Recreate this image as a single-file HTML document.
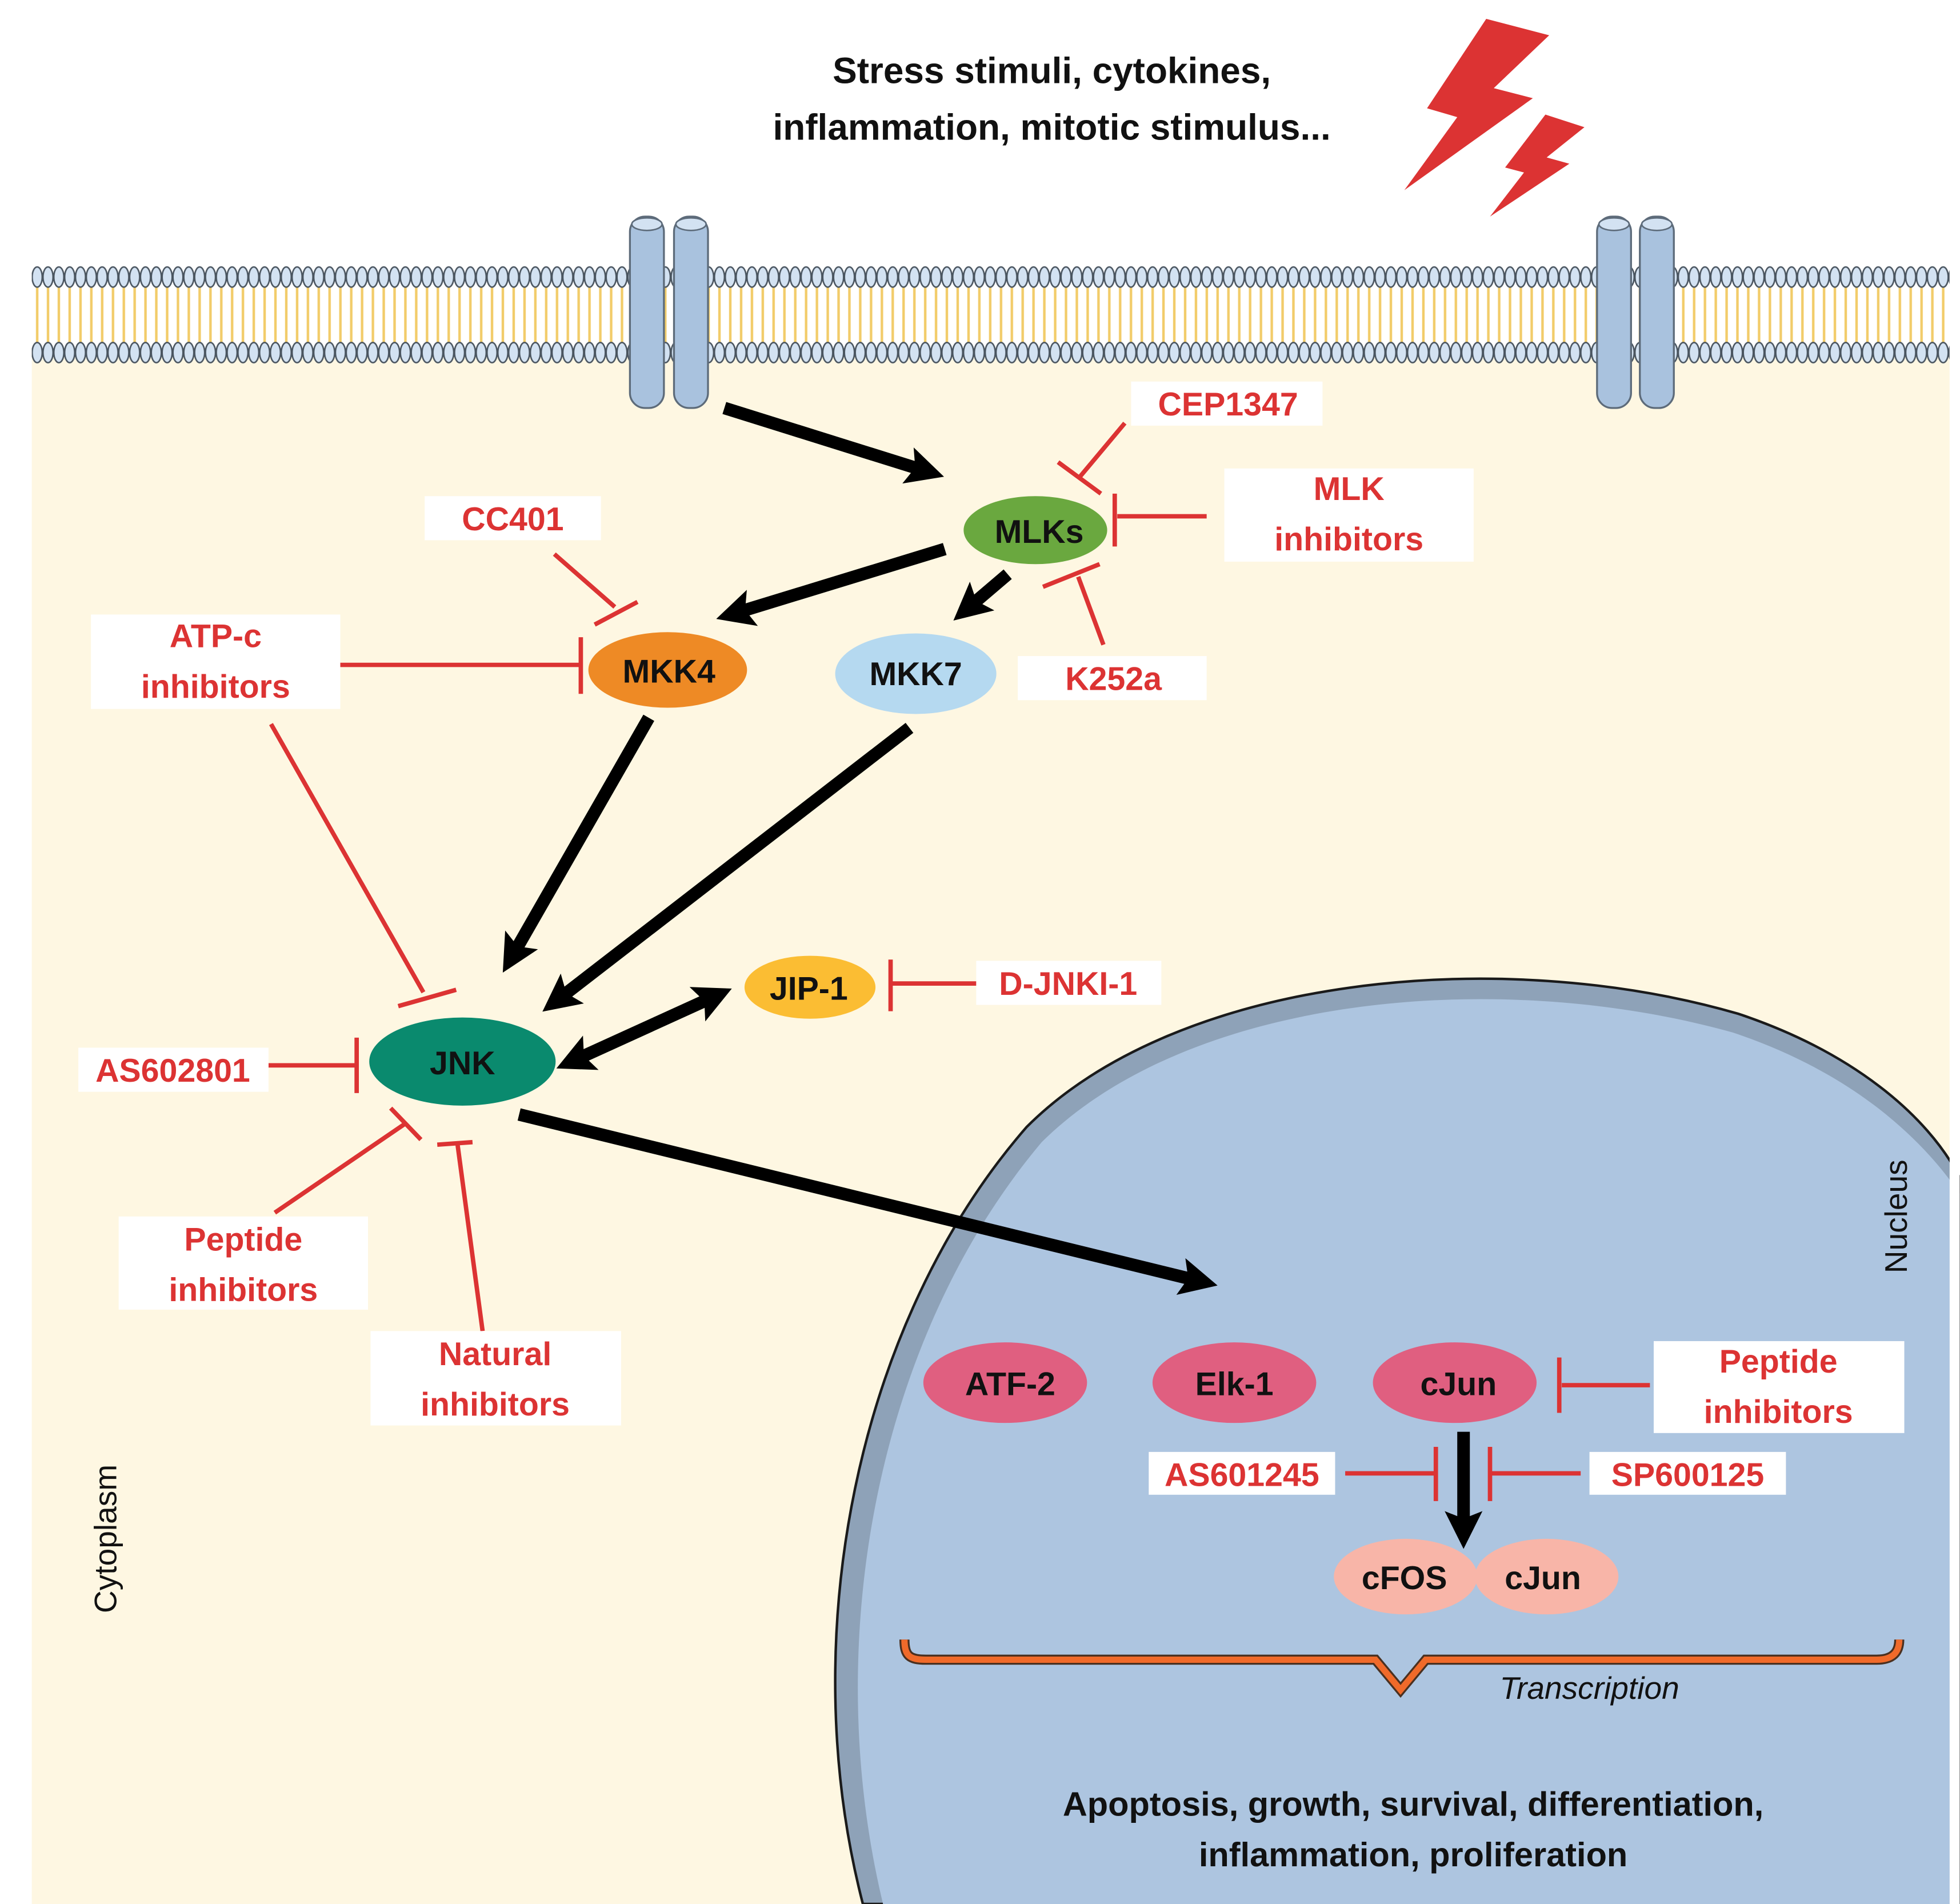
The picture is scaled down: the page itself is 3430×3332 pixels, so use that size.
<!DOCTYPE html>
<html><head><meta charset="utf-8"><style>
html,body{margin:0;padding:0;background:#fff;}
svg{display:block;}
text{font-family:"Liberation Sans",Arial,sans-serif;font-weight:bold;}
</style></head><body>
<svg width="3430" height="3332" viewBox="0 0 1556 1512" xmlns="http://www.w3.org/2000/svg">
<defs>
<pattern id="headsT" x="25" y="210" width="8.6" height="20" patternUnits="userSpaceOnUse">
<ellipse cx="4.3" cy="10" rx="4" ry="8" fill="#d3e2f2" stroke="#4a5560" stroke-width="1.2"/>
</pattern>
<pattern id="headsB" x="25" y="270" width="8.6" height="20" patternUnits="userSpaceOnUse">
<ellipse cx="4.3" cy="10" rx="4" ry="8" fill="#d3e2f2" stroke="#4a5560" stroke-width="1.2"/>
</pattern>
<pattern id="tails" x="25" y="228" width="8.6" height="46" patternUnits="userSpaceOnUse">
<line x1="4.3" y1="0" x2="4.3" y2="46" stroke="#f2cc6a" stroke-width="2"/>
</pattern>
<marker id="ah" viewBox="0 0 10 10" refX="6" refY="5" markerWidth="3" markerHeight="3" orient="auto">
<path d="M0,0 L10,5 L0,10 L2,5 Z" fill="#000"/>
</marker>
<marker id="ahs" viewBox="0 0 10 10" refX="4" refY="5" markerWidth="3" markerHeight="3" orient="auto-start-reverse">
<path d="M0,0 L10,5 L0,10 L2,5 Z" fill="#000"/>
</marker>
</defs>
<rect x="0" y="0" width="1556" height="1512" fill="#fff"/>
<rect x="25" y="280" width="1523" height="1232" fill="#fef7e2"/>
<rect x="25" y="228" width="1523" height="46" fill="url(#tails)"/>
<rect x="25" y="210" width="1523" height="20" fill="url(#headsT)"/>
<rect x="25" y="270" width="1523" height="20" fill="url(#headsB)"/>
<g fill="#a9c2de" stroke="#5d6b7a" stroke-width="1.5">
<rect x="500" y="172" width="27" height="152" rx="12"/>
<rect x="535" y="172" width="27" height="152" rx="12"/>
<rect x="1268" y="172" width="27" height="152" rx="12"/>
<rect x="1302" y="172" width="27" height="152" rx="12"/>
</g>
<g fill="#d3e2f2" stroke="#5d6b7a" stroke-width="1.2">
<ellipse cx="513.5" cy="178" rx="12" ry="5"/><ellipse cx="548.5" cy="178" rx="12" ry="5"/>
<ellipse cx="1281.5" cy="178" rx="12" ry="5"/><ellipse cx="1315.5" cy="178" rx="12" ry="5"/>
</g>
<text x="835" y="66" font-size="29" text-anchor="middle" fill="#111">Stress stimuli, cytokines,</text>
<text x="835" y="111" font-size="29" text-anchor="middle" fill="#111">inflammation, mitotic stimulus...</text>
<path d="M1180,15 L1230,28 L1186,70 L1217,78 L1115,151 L1157,93 L1133,86 Z" fill="#dc3333"/>
<path d="M1227,91 L1258,101 L1228,125 L1246,130 L1183,172 L1210,137 L1195,133 Z" fill="#dc3333"/>
<path d="M685,1512 C630,1300 680,1050 815,895 C935,775 1190,750 1380,805 C1470,835 1530,885 1556,935 L1556,1512 Z" fill="#8ea2b8" stroke="#1a1a1a" stroke-width="2"/>
<path d="M701,1512 C650,1300 698,1060 827,907 C945,790 1190,768 1376,820 C1460,848 1520,895 1556,948 L1556,1512 Z" fill="#adc5e0"/>
<rect x="1548" y="0" width="8" height="1512" fill="#fff"/>
<g stroke="#000" stroke-width="10" fill="none" marker-end="url(#ah)">
<line x1="575" y1="324" x2="738" y2="375"/>
<line x1="750" y1="436" x2="580" y2="488"/>
<line x1="800" y1="456" x2="766" y2="485"/>
<line x1="515" y1="570" x2="405" y2="762"/>
<line x1="722" y1="578" x2="440" y2="796"/>
<line x1="412" y1="885" x2="955" y2="1018"/>
<line x1="1162" y1="1137" x2="1162" y2="1218"/>
<line x1="458" y1="841" x2="570" y2="790" marker-start="url(#ahs)"/>
</g>
<g stroke="#dc3333" stroke-width="3.5" fill="none">
<line x1="893" y1="336" x2="857" y2="379"/><line x1="840" y1="367" x2="874" y2="392"/>
<line x1="958" y1="410" x2="887" y2="410"/><line x1="885" y1="392" x2="885" y2="434"/>
<line x1="876" y1="512" x2="856" y2="458"/><line x1="828" y1="466" x2="873" y2="448"/>
<line x1="440" y1="440" x2="488" y2="482"/><line x1="472" y1="496" x2="506" y2="478"/>
<line x1="262" y1="528" x2="460" y2="528"/><line x1="461" y1="506" x2="461" y2="551"/>
<line x1="215" y1="575" x2="336" y2="788"/><line x1="316" y1="799" x2="362" y2="786"/>
<line x1="213" y1="846" x2="282" y2="846"/><line x1="283" y1="824" x2="283" y2="868"/>
<line x1="218" y1="963" x2="322" y2="892"/><line x1="310" y1="880" x2="334" y2="905"/>
<line x1="383" y1="1057" x2="363" y2="908"/><line x1="347" y1="909" x2="375" y2="907"/>
<line x1="775" y1="781" x2="708" y2="781"/><line x1="707" y1="762" x2="707" y2="803"/>
<line x1="1310" y1="1100" x2="1240" y2="1100"/><line x1="1238" y1="1078" x2="1238" y2="1122"/>
<line x1="1068" y1="1170" x2="1139" y2="1170"/><line x1="1140" y1="1149" x2="1140" y2="1192"/>
<line x1="1255" y1="1170" x2="1184" y2="1170"/><line x1="1183" y1="1149" x2="1183" y2="1192"/>
</g>
<g fill="#fff">
<rect x="898" y="303" width="152" height="35"/>
<rect x="972" y="372" width="198" height="74"/>
<rect x="808" y="521" width="150" height="35"/>
<rect x="337" y="394" width="140" height="35"/>
<rect x="72" y="488" width="198" height="75"/>
<rect x="775" y="763" width="147" height="35"/>
<rect x="62" y="832" width="151" height="35"/>
<rect x="94" y="966" width="198" height="74"/>
<rect x="294" y="1057" width="199" height="75"/>
<rect x="1313" y="1065" width="199" height="73"/>
<rect x="912" y="1153" width="148" height="34"/>
<rect x="1262" y="1153" width="156" height="34"/>
</g>
<g fill="#dc3333" font-size="26" text-anchor="middle">
<text x="975" y="330">CEP1347</text>
<text x="1071" y="397">MLK</text><text x="1071" y="437">inhibitors</text>
<text x="884" y="548">K252a</text>
<text x="407" y="421">CC401</text>
<text x="171" y="514">ATP-c</text><text x="171" y="554">inhibitors</text>
<text x="848" y="790">D-JNKI-1</text>
<text x="137" y="859">AS602801</text>
<text x="193" y="993">Peptide</text><text x="193" y="1033">inhibitors</text>
<text x="393" y="1084">Natural</text><text x="393" y="1124">inhibitors</text>
<text x="1412" y="1090">Peptide</text><text x="1412" y="1130">inhibitors</text>
<text x="986" y="1180">AS601245</text>
<text x="1340" y="1180">SP600125</text>
</g>
<ellipse cx="822" cy="421" rx="57" ry="27" fill="#6aa83f"/>
<ellipse cx="530" cy="532" rx="63" ry="30" fill="#ee8a25"/>
<ellipse cx="727" cy="535" rx="64" ry="32" fill="#b5d9f0"/>
<ellipse cx="367" cy="843" rx="74" ry="35" fill="#0a8a6e"/>
<ellipse cx="643" cy="784" rx="52" ry="25" fill="#fbbd33"/>
<ellipse cx="798" cy="1098" rx="65" ry="32" fill="#e05f80"/>
<ellipse cx="980" cy="1098" rx="65" ry="32" fill="#e05f80"/>
<ellipse cx="1155" cy="1098" rx="65" ry="32" fill="#e05f80"/>
<ellipse cx="1116" cy="1252" rx="57" ry="30" fill="#f8b5a8"/>
<ellipse cx="1228" cy="1252" rx="57" ry="30" fill="#f8b5a8"/>
<g fill="#111" font-size="26" text-anchor="middle">
<text x="825" y="431">MLKs</text>
<text x="531" y="542">MKK4</text>
<text x="727" y="544">MKK7</text>
<text x="367" y="853">JNK</text>
<text x="642" y="794">JIP-1</text>
<text x="802" y="1108">ATF-2</text>
<text x="980" y="1108">Elk-1</text>
<text x="1158" y="1108">cJun</text>
<text x="1115" y="1262">cFOS</text>
<text x="1225" y="1262">cJun</text>
</g>
<path d="M718,1302 C718,1315 722,1318 735,1318 L1092,1318 L1112,1342 L1132,1318 L1490,1318 C1503,1318 1508,1312 1508,1302" fill="none" stroke="#4a3020" stroke-width="8"/>
<path d="M718,1302 C718,1315 722,1318 735,1318 L1092,1318 L1112,1342 L1132,1318 L1490,1318 C1503,1318 1508,1312 1508,1302" fill="none" stroke="#f06a2a" stroke-width="5"/>
<text x="1262" y="1349" font-size="25" font-style="italic" fill="#111" text-anchor="middle" style="font-weight:normal">Transcription</text>
<text x="1122" y="1442" font-size="27" fill="#111" text-anchor="middle">Apoptosis, growth, survival, differentiation,</text>
<text x="1122" y="1482" font-size="27" fill="#111" text-anchor="middle">inflammation, proliferation</text>
<text transform="translate(92,1222) rotate(-90)" font-size="25" fill="#111" text-anchor="middle" style="font-weight:normal">Cytoplasm</text>
<text transform="translate(1514,966) rotate(-90)" font-size="25" fill="#111" text-anchor="middle" style="font-weight:normal">Nucleus</text>
</svg>
</body></html>
